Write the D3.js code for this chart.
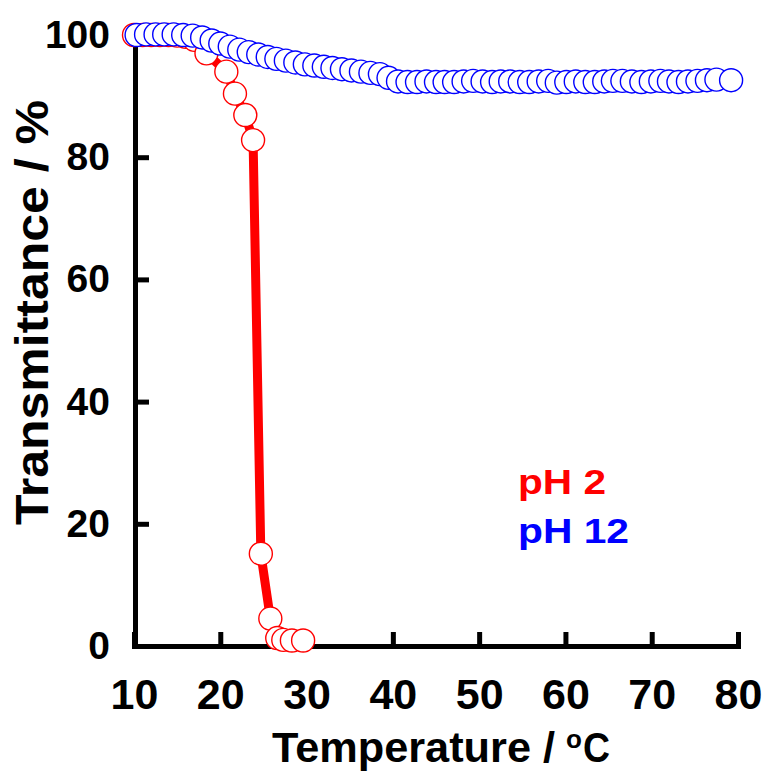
<!DOCTYPE html>
<meta charset="utf-8">
<style>
body { margin: 0; background: #fff; }
svg { display: block; background: #fff; }
.axis path, .axis line { fill: none; stroke: #000; stroke-width: 5px; }
.axis text { font-family: "Liberation Sans", Arial, sans-serif; font-weight: bold; fill: #000; }
.lbl { font-family: "Liberation Sans", Arial, sans-serif; font-weight: bold; }
</style>
<body>
<div id="chart"></div>
<script src="https://d3js.org/d3.v7.min.js"></script>
<script>
// pH 2 series (temperature in deg C, transmittance in %)
var tempAcid = [10.0, 11.0, 12.0, 13.0, 14.0, 15.0, 16.0, 17.0, 18.4, 20.7, 21.7, 22.9, 23.8, 24.7, 25.8, 26.6, 27.3, 28.3, 29.6];
var transAcid = [100.0, 100.0, 100.0, 100.0, 100.0, 99.9, 99.7, 99.2, 97.0, 94.0, 90.4, 86.9, 82.8, 15.1, 4.5, 1.3, 1.0, 0.9, 0.9];

// pH 12 series
var tempBase = [10.3, 11.4, 12.5, 13.5, 14.6, 15.7, 16.8, 17.9, 19.0, 20.0, 21.1, 22.2, 23.3, 24.4, 25.5, 26.5,
    27.6, 28.7, 29.8, 30.9, 32.0, 33.0, 34.1, 35.2, 36.3, 37.4, 38.5, 39.5, 40.6, 41.7, 42.8, 43.9,
    45.0, 46.0, 47.1, 48.2, 49.3, 50.4, 51.5, 52.5, 53.6, 54.7, 55.8, 56.9, 58.0, 59.0, 60.1, 61.2,
    62.3, 63.4, 64.5, 65.5, 66.6, 67.7, 68.8, 69.9, 71.0, 72.0, 73.1, 74.2, 75.3, 76.4, 77.5, 79.2];
var transBase = [100.0, 100.1, 100.1, 100.1, 100.1, 100.0, 99.9, 99.6, 99.1, 98.6, 98.1, 97.6, 97.2, 96.8, 96.4, 96.1,
    95.8, 95.5, 95.2, 95.0, 94.8, 94.6, 94.4, 94.2, 94.0, 93.8, 93.6, 93.0, 92.4, 92.3, 92.3, 92.4,
    92.3, 92.3, 92.3, 92.4, 92.5, 92.4, 92.3, 92.4, 92.4, 92.3, 92.3, 92.4, 92.5, 92.2, 92.3, 92.4,
    92.3, 92.3, 92.4, 92.5, 92.5, 92.4, 92.3, 92.4, 92.5, 92.4, 92.3, 92.4, 92.5, 92.6, 92.7, 92.6];

var xTicks = [10, 20, 30, 40, 50, 60, 70, 80];
var yTicks = [0, 20, 40, 60, 80, 100];

var width = 769, height = 775;
var svg = d3.select("#chart").append("svg")
    .attr("width", width)
    .attr("height", height);

var x = d3.scaleLinear().domain([10, 80]).range([134, 738]);
var y = d3.scaleLinear().domain([0, 100]).range([646, 35]);

// axes, ticks point inward
svg.append("g")
    .attr("class", "axis axis--x")
    .attr("transform", "translate(0,646)")
    .call(d3.axisBottom(x).tickValues(xTicks).tickSizeInner(-14).tickSizeOuter(0).tickPadding(32))
    .selectAll("text").style("font-size", "43px");

svg.append("g")
    .attr("class", "axis axis--y")
    .attr("transform", "translate(135,0)")
    .call(d3.axisLeft(y).tickValues(yTicks).tickSizeInner(-14).tickSizeOuter(0).tickPadding(25))
    .selectAll("text").style("font-size", "39px");

svg.selectAll(".axis path").attr("stroke-linecap", "square");

var line = d3.line()
    .x(function(d) { return x(d[0]); })
    .y(function(d) { return y(d[1]); });

var acid = d3.zip(tempAcid, transAcid);
var base = d3.zip(tempBase, transBase);

function drawSeries(data, color) {
    svg.append("path")
        .datum(data)
        .attr("d", line)
        .attr("fill", "none")
        .attr("stroke", color)
        .attr("stroke-width", 9);
    svg.append("g").selectAll("circle")
        .data(data)
        .enter().append("circle")
        .attr("cx", function(d) { return x(d[0]); })
        .attr("cy", function(d) { return y(d[1]); })
        .attr("r", 11.5)
        .attr("fill", "#fff")
        .attr("stroke", color)
        .attr("stroke-width", 1.4);
}
drawSeries(acid, "#ff0000");
drawSeries(base, "#0000ff");

// legend
svg.append("text").attr("class", "lbl")
    .attr("x", 518).attr("y", 494)
    .attr("font-size", 35).attr("fill", "#ff0000")
    .attr("textLength", 88).attr("lengthAdjust", "spacingAndGlyphs")
    .text("pH 2");
svg.append("text").attr("class", "lbl")
    .attr("x", 518).attr("y", 543)
    .attr("font-size", 35).attr("fill", "#0000ff")
    .attr("textLength", 111).attr("lengthAdjust", "spacingAndGlyphs")
    .text("pH 12");

// axis titles
svg.append("text").attr("class", "lbl")
    .attr("x", 272).attr("y", 762)
    .attr("font-size", 43)
    .attr("textLength", 283).attr("lengthAdjust", "spacingAndGlyphs")
    .text("Temperature /");
svg.append("text").attr("class", "lbl")
    .attr("x", 566).attr("y", 748)
    .attr("font-size", 26)
    .text("o");
svg.append("text").attr("class", "lbl")
    .attr("x", 583).attr("y", 762)
    .attr("font-size", 43)
    .attr("textLength", 27).attr("lengthAdjust", "spacingAndGlyphs")
    .text("C");

svg.append("text").attr("class", "lbl")
    .attr("transform", "translate(48,525) rotate(-90)")
    .attr("font-size", 46)
    .attr("textLength", 425).attr("lengthAdjust", "spacingAndGlyphs")
    .text("Transmittance / %");
</script>
</body>
